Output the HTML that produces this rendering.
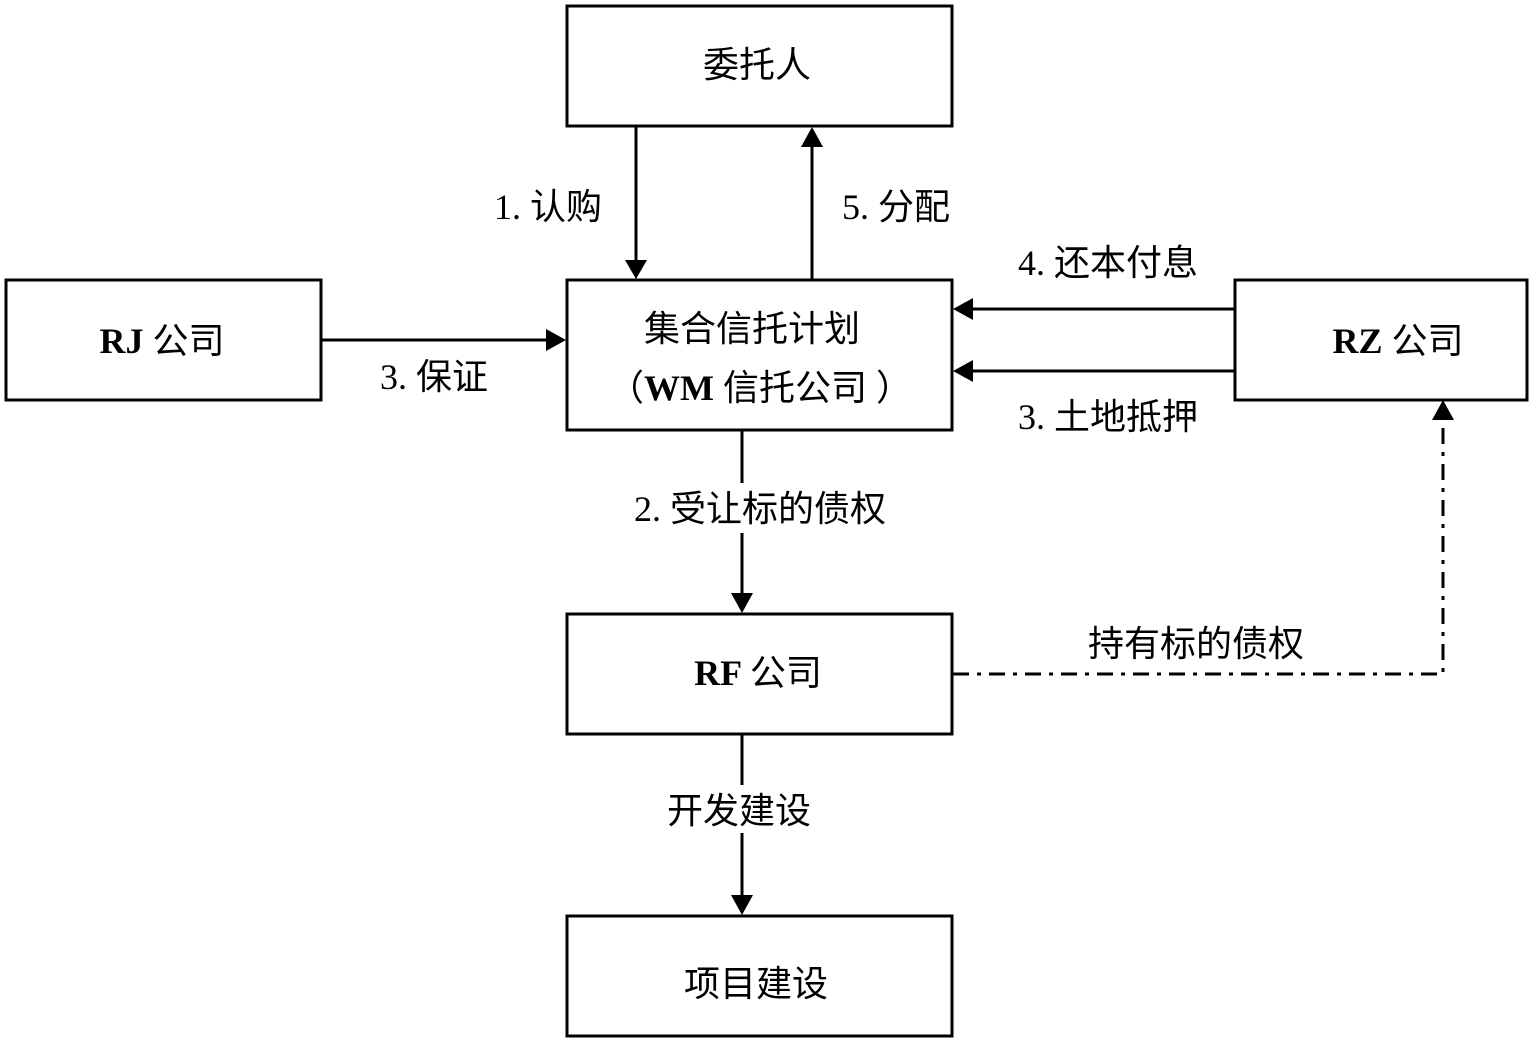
<!DOCTYPE html>
<html><head><meta charset="utf-8"><style>
html,body{margin:0;padding:0;background:#fff;}
svg text{font-family:"Liberation Serif","Noto Sans CJK SC",sans-serif;font-size:36px;fill:#000;}
</style></head><body>
<svg width="1531" height="1042" viewBox="0 0 1531 1042" xmlns="http://www.w3.org/2000/svg">
<g fill="none" stroke="#000" stroke-width="3">
<rect x="567" y="6" width="385" height="120"/>
<rect x="6" y="280" width="315" height="120"/>
<rect x="567" y="280" width="385" height="150"/>
<rect x="1235" y="280" width="292" height="120"/>
<rect x="567" y="614" width="385" height="120"/>
<rect x="567" y="916" width="385" height="120"/>
</g>
<g stroke="#000" stroke-width="3" fill="#000">
<line x1="636" y1="127" x2="636" y2="262"/><path d="M625,260 L636,279 L647,260 z" stroke="none"/>
<line x1="812" y1="279" x2="812" y2="145"/><path d="M801,147 L812,127 L823,147 z" stroke="none"/>
<line x1="322" y1="340" x2="548" y2="340"/><path d="M546,329 L566,340 L546,351 z" stroke="none"/>
<line x1="1234" y1="309" x2="972" y2="309"/><path d="M973,298 L953,309 L973,320 z" stroke="none"/>
<line x1="1234" y1="371" x2="972" y2="371"/><path d="M973,360 L953,371 L973,382 z" stroke="none"/>
<line x1="742" y1="431" x2="742" y2="483"/>
<line x1="742" y1="533" x2="742" y2="596"/><path d="M731,593 L742,613 L753,593 z" stroke="none"/>
<line x1="742" y1="734" x2="742" y2="785"/>
<line x1="742" y1="833" x2="742" y2="898"/><path d="M731,895 L742,915 L753,895 z" stroke="none"/>
<path d="M1432,420 L1443,400 L1454,420 z" stroke="none"/>
</g>
<polyline points="953,674 1443,674 1443,420" fill="none" stroke="#000" stroke-width="3" stroke-dasharray="16 8 4 8"/>
<text x="757" y="77" text-anchor="middle">委托人</text>
<text x="162" y="353" text-anchor="middle" font-weight="bold">RJ <tspan font-weight="normal">公司</tspan></text>
<text x="752" y="341" text-anchor="middle">集合信托计划</text>
<text x="760" y="400" text-anchor="middle">（<tspan font-weight="bold">WM</tspan> 信托公司 ）</text>
<text x="1398" y="353" text-anchor="middle" font-weight="bold">RZ <tspan font-weight="normal">公司</tspan></text>
<text x="758" y="685" text-anchor="middle" font-weight="bold">RF <tspan font-weight="normal">公司</tspan></text>
<text x="756" y="996" text-anchor="middle">项目建设</text>
<text x="494" y="219">1. 认购</text>
<text x="842" y="219">5. 分配</text>
<text x="1018" y="275">4. 还本付息</text>
<text x="380" y="389">3. 保证</text>
<text x="1018" y="429">3. 土地抵押</text>
<text x="634" y="521">2. 受让标的债权</text>
<text x="1088" y="656">持有标的债权</text>
<text x="667" y="823">开发建设</text>
</svg>
</body></html>
